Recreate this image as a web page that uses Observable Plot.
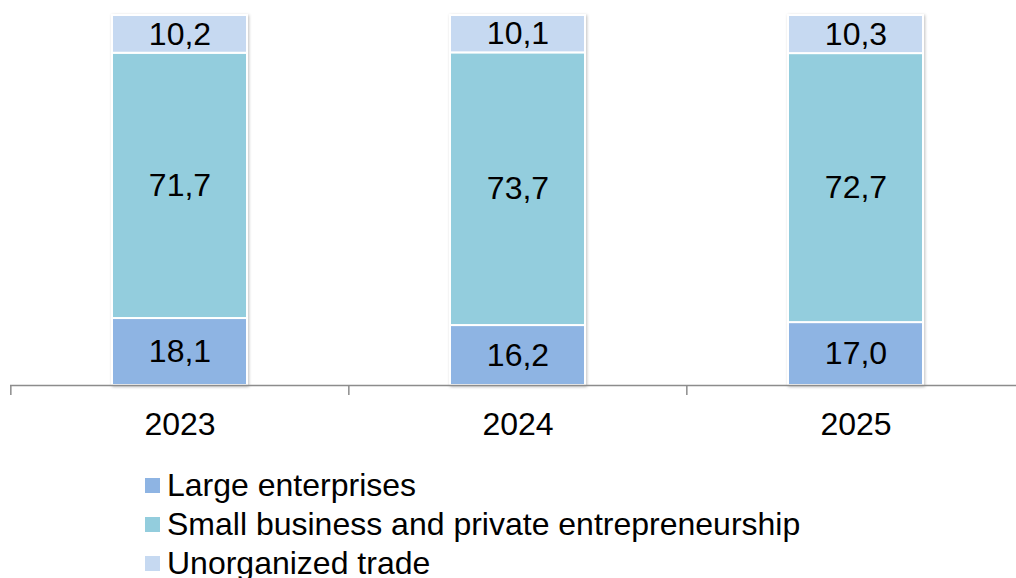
<!DOCTYPE html>
<html>
<head>
<meta charset="utf-8">
<script src="https://cdn.jsdelivr.net/npm/d3@7"></script>
<script src="https://cdn.jsdelivr.net/npm/@observablehq/plot@0.6"></script>
<style>
  html, body { margin: 0; padding: 0; background: #fff; overflow: hidden; }
  body { font-family: "Liberation Sans", Arial, sans-serif; width: 1016px; height: 578px; }
  #chart { width: 1016px; overflow: hidden; }
  #chart svg { max-width: none !important; display: block; }
  #chart svg g[aria-label="bar"] { filter: drop-shadow(1px 1px 1.5px rgba(0,0,0,0.25)); }
  .legend { margin: 11px 0 0 145px; font-size: 32px; color: #000; }
  .legend .row { display: flex; align-items: center; height: 39px; white-space: nowrap; }
  .legend .sw { width: 15px; height: 15px; margin-right: 7px; flex: none; }
</style>
</head>
<body>
<div id="chart"></div>
<div class="legend" id="legend"></div>
<script>
const years = ["2023", "2024", "2025"];
const seriesNames = ["Large enterprises", "Small business and private entrepreneurship", "Unorganized trade"];
const seriesColors = ["#8EB4E3", "#93CDDD", "#C6D9F1"];
const largeEnterprises = [18.1, 16.2, 17.0];
const smallBusiness = [71.7, 73.7, 72.7];
const unorganizedTrade = [10.2, 10.1, 10.3];

const seriesValues = [largeEnterprises, smallBusiness, unorganizedTrade];
const data = [];
seriesNames.forEach((s, si) => {
  years.forEach((y, yi) => data.push({year: y, series: s, value: seriesValues[si][yi]}));
});
const fmt = v => v.toFixed(1).replace(".", ",");

const W = 1026, ML = 10, MR = 1;
const step = (W - ML - MR) / years.length;

const chart = Plot.plot({
  width: W,
  height: 455,
  marginLeft: ML,
  marginRight: MR,
  marginTop: 15,
  marginBottom: 70,
  style: {fontFamily: "'Liberation Sans', Arial, sans-serif", fontSize: "32px", color: "#000", background: "#fff"},
  x: {domain: years, paddingInner: 0.6, paddingOuter: 0.3, label: null},
  y: {domain: [0, 100], axis: null},
  color: {domain: seriesNames, range: seriesColors},
  marks: [
    Plot.barY(data, {x: "year", y: "value", z: "series", fill: "series", stroke: "#fff", strokeWidth: 2}),
    Plot.text(data, Plot.stackY({x: "year", y: "value", z: "series", text: d => fmt(d.value), fontSize: 32, fill: "#000"})),
    Plot.ruleY([0], {stroke: "#8c8c8c", strokeWidth: 1.5}),
    Plot.ruleX(years, {x: d => d, y1: 0, y2: 0, dx: -step / 2, insetTop: 0, insetBottom: -10, stroke: "#8c8c8c", strokeWidth: 1.5}),
    Plot.axisX({tickSize: 0, tickPadding: 27, fontSize: 32, fill: "#000", label: null})
  ]
});
document.getElementById("chart").appendChild(chart);

const legend = document.getElementById("legend");
seriesNames.forEach((s, i) => {
  const row = document.createElement("div");
  row.className = "row";
  const sw = document.createElement("span");
  sw.className = "sw";
  sw.style.background = seriesColors[i];
  const t = document.createElement("span");
  t.textContent = s;
  row.appendChild(sw);
  row.appendChild(t);
  legend.appendChild(row);
});
</script>
</body>
</html>
